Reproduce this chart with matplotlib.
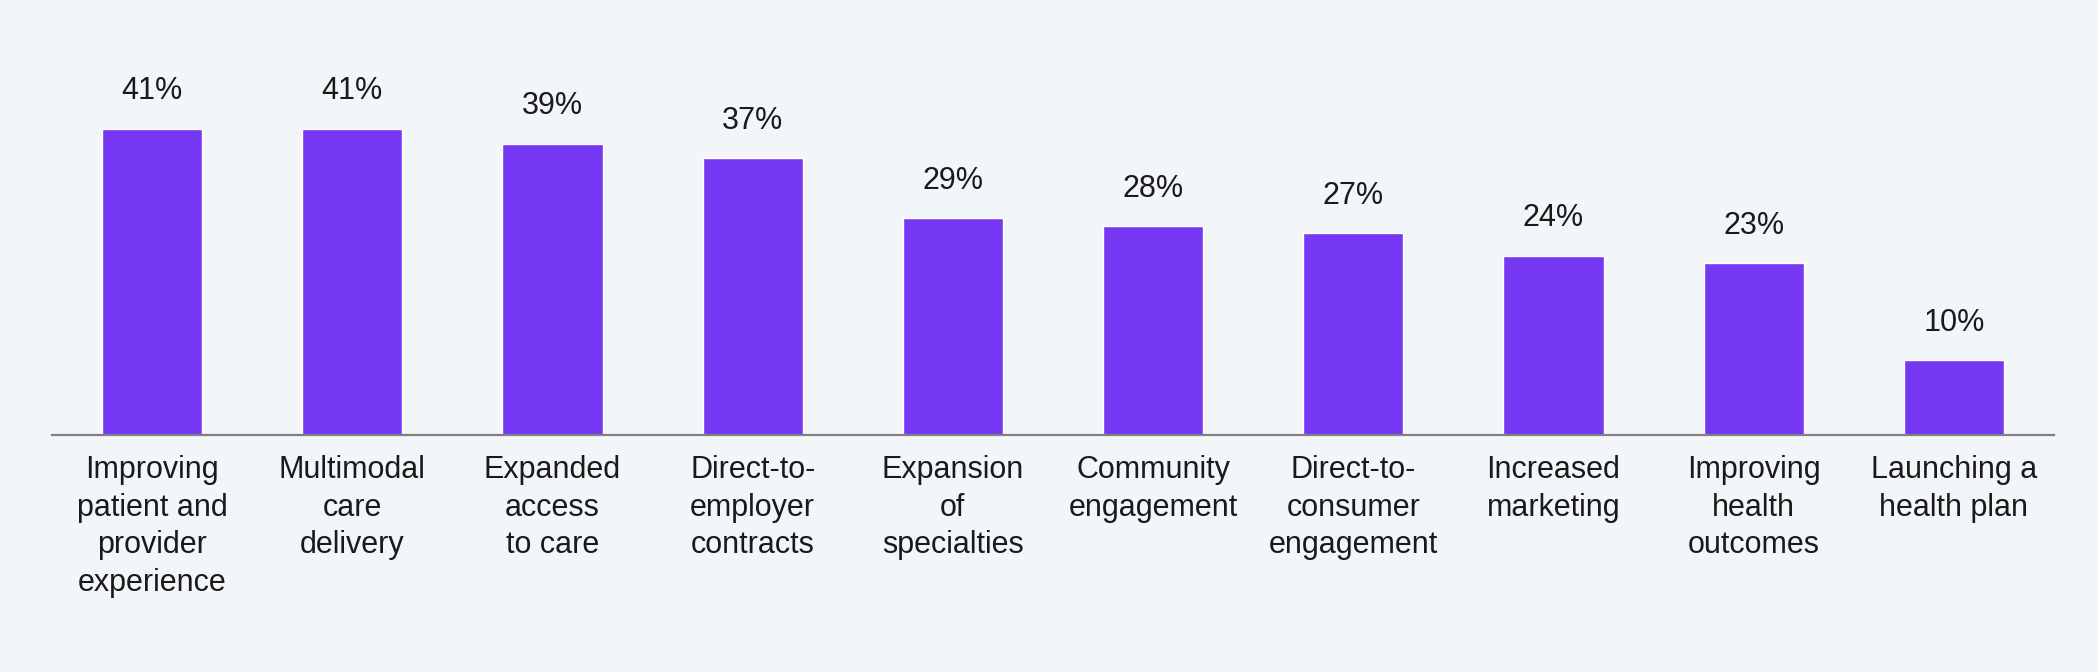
import matplotlib
matplotlib.use("Agg")
import matplotlib.pyplot as plt
from matplotlib.transforms import blended_transform_factory

categories = [
    "Improving\npatient and\nprovider\nexperience",
    "Multimodal\ncare\ndelivery",
    "Expanded\naccess\nto care",
    "Direct-to-\nemployer\ncontracts",
    "Expansion\nof\nspecialties",
    "Community\nengagement",
    "Direct-to-\nconsumer\nengagement",
    "Increased\nmarketing",
    "Improving\nhealth\noutcomes",
    "Launching a\nhealth plan",
]
values = [41, 41, 39, 37, 29, 28, 27, 24, 23, 10]
value_labels = [f"{v}%" for v in values]

BG = "#F3F6F9"
BAR = "#7638F2"
TXT = "#1A1A1A"

plt.rcParams['font.family'] = ['Liberation Sans', 'DejaVu Sans']

fig = plt.figure(figsize=(20.98, 6.72), dpi=100, facecolor=BG)
ax = fig.add_axes([52/2098, 1 - 435/672, (2054-52)/2098, 435/672])
ax.set_facecolor(BG)

x = list(range(len(values)))
ax.bar(x, values, width=0.5, color=BAR, edgecolor="white", linewidth=1.0)
ax.set_xlim(-0.5, len(values) - 0.5)
ax.set_ylim(0, 58.2)

for s in ["top", "right", "left"]:
    ax.spines[s].set_visible(False)
ax.spines["bottom"].set_color("#808080")
ax.spines["bottom"].set_linewidth(1.6)
ax.set_yticks([])
ax.set_xticks([])

for xi, v, lab in zip(x, values, value_labels):
    ax.annotate(lab, (xi, v), xytext=(0, 21), textcoords="offset points",
                ha="center", va="baseline", fontsize=22, color=TXT)

trans = blended_transform_factory(ax.transData, ax.transAxes)
for xi, cat in zip(x, categories):
    ax.annotate(cat, (xi, 0), xycoords=trans, xytext=(0, -14.4),
                textcoords="offset points", ha="center", va="top",
                fontsize=22, color=TXT, linespacing=1.33, annotation_clip=False)

fig.savefig("out.png", dpi=100, facecolor=BG)
